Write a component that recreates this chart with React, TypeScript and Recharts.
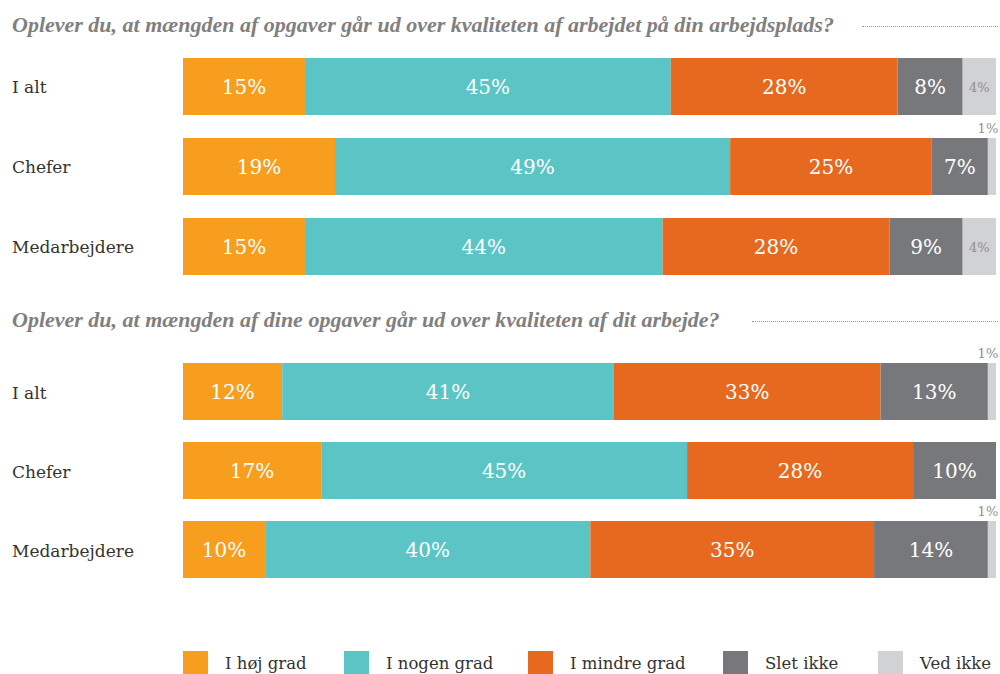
import React from "react";
import { BarChart, Bar, XAxis, YAxis, LabelList } from "recharts";

const categories = ["I alt", "Chefer", "Medarbejdere"];
const seriesNames = ["I høj grad", "I nogen grad", "I mindre grad", "Slet ikke", "Ved ikke"];
const seriesKeys = ["hoj", "nogen", "mindre", "slet", "ved"];
const colors = ["#F79E1E", "#5BC5C6", "#E7691F", "#77787C", "#D1D2D4"];

const title1 = "Oplever du, at mængden af opgaver går ud over kvaliteten af arbejdet på din arbejdsplads?";
const title2 = "Oplever du, at mængden af dine opgaver går ud over kvaliteten af dit arbejde?";

// Question 1
const q1Hoj = [15.0, 18.7, 15.0];
const q1Nogen = [45.0, 48.6, 44.0];
const q1Mindre = [27.9, 24.8, 27.9];
const q1Slet = [8.0, 6.9, 9.0];
const q1Ved = [4.1, 1.0, 4.1];

// Question 2
const q2Hoj = [12.2, 17.0, 10.1];
const q2Nogen = [40.8, 45.0, 40.0];
const q2Mindre = [32.8, 27.8, 34.9];
const q2Slet = [13.2, 10.2, 14.0];
const q2Ved = [1.0, 0, 1.0];

const build = (arrs: number[][]) =>
  categories.map((c, i) => {
    const row: any = { name: c };
    seriesKeys.forEach((k, j) => (row[k] = arrs[j][i]));
    return row;
  });

const data1 = build([q1Hoj, q1Nogen, q1Mindre, q1Slet, q1Ved]);
const data2 = build([q2Hoj, q2Nogen, q2Mindre, q2Slet, q2Ved]);

const SERIF = "'DejaVu Serif', serif";
const TITLE_SERIF = "'Liberation Serif', serif";

const YTick = (props: any) => {
  const { y, payload } = props;
  return (
    <text x={12} y={y} dy={7} textAnchor="start" fontFamily={SERIF} fontSize={17} fill="#333">
      {payload.value}
    </text>
  );
};

const whiteLabel = (props: any) => {
  const { x, y, width, height, value } = props;
  if (!value) return null;
  return (
    <text
      x={x + width / 2}
      y={y + height / 2}
      dy={7}
      textAnchor="middle"
      fontFamily={SERIF}
      fontSize={20}
      fill="#ffffff"
    >
      {Math.round(value)}%
    </text>
  );
};

const vedLabel = (props: any) => {
  const { x, y, width, height, value } = props;
  if (!value) return null;
  if (value >= 2) {
    return (
      <text x={x + width / 2} y={y + height / 2} dy={5} textAnchor="middle" fontFamily={SERIF} fontSize={13} fill="#909090">
        {Math.round(value)}%
      </text>
    );
  }
  return (
    <text x={x + width / 2 - 4} y={y - 5} textAnchor="middle" fontFamily={SERIF} fontSize={13} fill="#909090">
      {Math.round(value)}%
    </text>
  );
};

const Chart = ({ data, height }: { data: any[]; height: number }) => (
  <BarChart
    layout="vertical"
    width={1000}
    height={height}
    data={data}
    margin={{ top: 20, right: 4, bottom: 0, left: 0 }}
    barSize={57}
    barCategoryGap={0}
  >
    <XAxis type="number" domain={[0, 100]} hide />
    <YAxis type="category" dataKey="name" width={183} axisLine={false} tickLine={false} tick={<YTick />} />
    {seriesKeys.map((k, i) => (
      <Bar key={k} dataKey={k} stackId="a" fill={colors[i]} isAnimationActive={false}>
        <LabelList dataKey={k} content={i === 4 ? vedLabel : whiteLabel} />
      </Bar>
    ))}
  </BarChart>
);

const titleStyle: React.CSSProperties = {
  position: "absolute",
  left: 12,
  fontFamily: TITLE_SERIF,
  fontStyle: "italic",
  fontWeight: "bold",
  fontSize: 22,
  lineHeight: "26px",
  color: "#808080",
  whiteSpace: "nowrap",
  margin: 0,
};

export default function App() {
  return (
    <div style={{ position: "absolute", left: 0, top: 0, width: 1000, height: 674, background: "#fff", overflow: "hidden" }}>
      <div style={{ ...titleStyle, top: 12 }}>{title1}</div>
      <div style={{ position: "absolute", left: 862, width: 136, top: 26, borderBottom: "1px dotted #999" }} />
      <div style={{ position: "absolute", top: 26, left: 0 }}>
        <Chart data={data1} height={260} />
      </div>
      <div style={{ ...titleStyle, top: 307 }}>{title2}</div>
      <div style={{ position: "absolute", left: 752, width: 246, top: 321, borderBottom: "1px dotted #999" }} />
      <div style={{ position: "absolute", top: 332, left: 0 }}>
        <Chart data={data2} height={257} />
      </div>
      {seriesNames.map((n, i) => {
        const lefts = [183, 344, 528, 723, 878];
        return (
          <div key={n} style={{ position: "absolute", left: lefts[i], top: 650, display: "flex", alignItems: "center" }}>
            <div style={{ width: 25, height: 24, background: colors[i] }} />
            <span style={{ marginLeft: 17, fontFamily: SERIF, fontSize: 16.5, color: "#333", lineHeight: "24px", paddingTop: 2 }}>{n}</span>
          </div>
        );
      })}
    </div>
  );
}
